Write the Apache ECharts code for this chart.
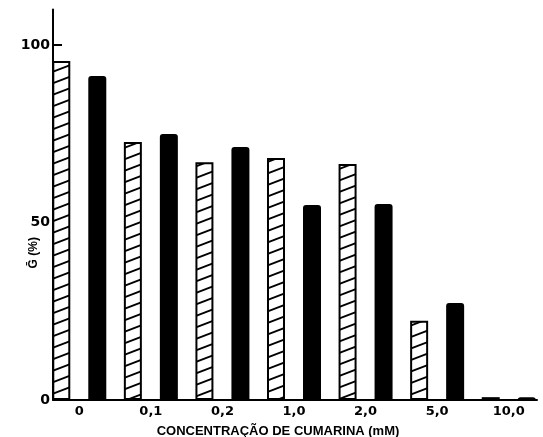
<!DOCTYPE html>
<html>
<head>
<meta charset="utf-8">
<script src="https://cdn.jsdelivr.net/npm/echarts@6/dist/echarts.min.js"></script>
<style>html,body{margin:0;padding:0;background:#fff}#c{width:543px;height:437px}</style>
</head>
<body>
<div id="c"></div>
<script>
const categories = ['0', '0,1', '0,2', '1,0', '2,0', '5,0', '10,0'];
const hatchedValues = [95.5, 72.7, 67.0, 68.2, 66.5, 22.3, 0.8];
const solidValues = [91.3, 74.9, 71.3, 54.9, 55.2, 27.3, 0.8];
const yTicks = [0, 50, 100];
const xTitle = 'CONCENTRAÇÃO DE CUMARINA (mM)';
const yTitle = 'Ḡ (%)';

function hatchPattern() {
  const w = 30, h = 11.5;
  const cv = document.createElement('canvas');
  cv.width = w; cv.height = 2 * h;
  const ctx = cv.getContext('2d');
  ctx.fillStyle = '#fff';
  ctx.fillRect(0, 0, w, 2 * h);
  ctx.strokeStyle = '#000';
  ctx.lineWidth = 1.9;
  for (let k = -2; k <= 2; k++) {
    ctx.beginPath();
    ctx.moveTo(-w, 2 * h + k * h);
    ctx.lineTo(2 * w, -h + k * h);
    ctx.stroke();
  }
  return cv;
}

const font = 'Liberation Sans, Arial, sans-serif';
const numFont = 'DejaVu Sans, sans-serif';
const chart = echarts.init(document.getElementById('c'), null, {renderer: 'canvas'});
chart.setOption({
  backgroundColor: '#fff',
  animation: false,
  grid: [
    {left: 43.5, right: -1.5, top: 9.5, bottom: 37, outerBoundsMode: 'none', containLabel: false},
    {left: 53, right: 6, top: 9.5, bottom: 37, outerBoundsMode: 'none', containLabel: false}
  ],
  xAxis: [
    {
      type: 'category', gridIndex: 0, data: categories,
      axisLine: {show: false}, axisTick: {show: false},
      axisLabel: {color: '#000', fontFamily: numFont, fontWeight: 'bold', fontSize: 13, margin: 5}
    },
    {
      type: 'value', gridIndex: 1, min: 0, max: 1,
      axisLine: {show: true, onZero: false, lineStyle: {color: '#000', width: 2}},
      axisTick: {show: false}, axisLabel: {show: false}, splitLine: {show: false},
      name: xTitle, nameLocation: 'middle', nameGap: 25, nameMoveOverlap: false,
      nameTextStyle: {color: '#000', fontFamily: font, fontWeight: 'bold', fontSize: 13, padding: [0, 34, 0, 0]}
    }
  ],
  yAxis: [
    {
      type: 'value', gridIndex: 0, min: 0, max: 110, show: false
    },
    {
      type: 'value', gridIndex: 1, min: 0, max: 110, interval: 50,
      axisLine: {show: true, lineStyle: {color: '#000', width: 2}},
      axisTick: {show: true, inside: true, length: 9, customValues: yTicks, lineStyle: {color: '#000', width: 2}},
      axisLabel: {color: '#000', fontFamily: numFont, fontWeight: 'bold', fontSize: 14, margin: 3, customValues: yTicks,
        formatter: v => (v > 100 ? '' : String(v))},
      splitLine: {show: false},
      name: yTitle, nameLocation: 'middle', nameRotate: 90, nameGap: 13, nameMoveOverlap: false,
      nameTextStyle: {color: '#000', fontFamily: font, fontWeight: 'bold', fontSize: 12, padding: [0, 96, 0, 0]}
    }
  ],
  series: [
    {
      type: 'bar', xAxisIndex: 0, yAxisIndex: 0, data: hatchedValues,
      barWidth: 18, barGap: '100%',
      itemStyle: {color: {image: hatchPattern(), repeat: 'repeat'}, borderColor: '#000', borderWidth: 2}
    },
    {
      type: 'bar', xAxisIndex: 0, yAxisIndex: 0, data: solidValues,
      barWidth: 18, barGap: '100%',
      itemStyle: {color: '#000', borderRadius: [3, 3, 0, 0]}
    }
  ]
});
</script>
</body>
</html>
